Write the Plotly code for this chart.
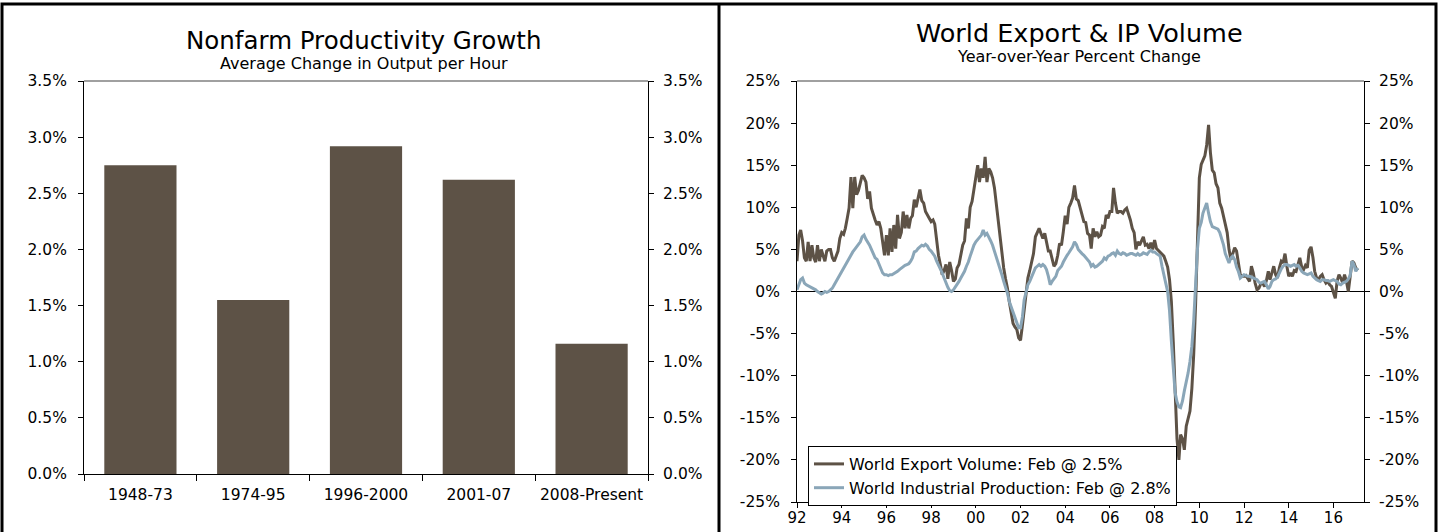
import plotly.graph_objects as go
import pandas as pd

# ---------------- data ----------------
periods = ["1948-73", "1974-95", "1996-2000", "2001-07", "2008-Present"]
productivity = [2.75, 1.55, 2.92, 2.62, 1.16]

# World export volume, y/y % change, monthly Jan-1992 .. Feb-2017
export_volume = [
    3.6, 6.7, 7.3, 6.0, 4.0, 3.6, 5.9, 3.6, 5.5, 4.0, 3.5, 5.5,          # 1992
    3.6, 5.0, 4.3, 3.6, 4.8, 5.0, 5.0, 4.0, 3.6, 4.2, 4.8, 6.3,          # 1993
    7.0, 6.8, 7.5, 8.7, 9.9, 13.6, 9.9, 13.6, 11.5, 12.0, 13.0, 13.8,    # 1994
    13.5, 13.0, 11.0, 11.9, 9.9, 9.1, 8.5, 7.9, 8.3, 7.5, 5.9, 4.3,      # 1995
    6.7, 4.3, 7.5, 4.7, 7.9, 5.1, 9.1, 6.3, 7.0, 9.5, 7.5, 9.1,          # 1996
    7.5, 8.7, 9.0, 10.9, 10.0, 11.0, 12.1, 10.8, 10.5, 9.5, 9.0, 8.7,    # 1997
    8.3, 8.5, 8.0, 6.0, 4.3, 3.2, 2.0, 2.5, 3.2, 1.5, 3.5, 2.5,          # 1998
    1.2, 1.5, 2.8, 3.2, 4.5, 5.5, 6.0, 8.7, 7.5, 10.0, 10.7, 12.3,       # 1999
    13.8, 15.0, 13.0, 14.6, 13.5, 16.0, 13.0, 14.6, 14.2, 13.5, 12.3, 10.3,  # 2000
    8.5, 6.5, 4.5, 2.8, 1.5, 0.4, -1.2, -2.8, -3.8, -4.2, -4.5, -5.5,    # 2001
    -5.8, -4.0, -2.0, 0.0, 1.6, 2.5, 3.5, 4.5, 6.5, 7.0, 7.5, 6.9,       # 2002
    6.3, 6.9, 5.9, 4.8, 4.8, 4.0, 3.0, 3.3, 4.3, 5.7, 5.5, 7.1,          # 2003
    9.0, 8.0, 10.0, 10.5, 11.1, 12.6, 11.0, 10.8, 9.9, 9.0, 8.3, 8.2,    # 2004
    6.9, 6.7, 5.1, 7.5, 6.5, 7.1, 6.5, 6.7, 7.7, 7.5, 9.1, 8.7,          # 2005
    9.5, 9.5, 12.3, 10.5, 9.3, 9.5, 9.5, 9.3, 9.7, 9.9, 9.2, 8.5,        # 2006
    7.5, 7.0, 5.0, 5.9, 5.5, 6.0, 6.5, 5.5, 5.6, 5.1, 5.8, 5.0,          # 2007
    6.1, 5.1, 4.9, 4.6, 4.4, 4.2, 3.6, 2.9, 1.4, -1.2, -6.0, -12.5,      # 2008
    -17.5, -20.0, -17.0, -17.5, -18.8, -16.0, -15.0, -14.2, -11.5, -7.5, -1.5, 5.0,  # 2009
    13.5, 15.1, 15.6, 16.1, 17.4, 19.8, 16.5, 14.4, 14.1, 12.8, 12.3, 10.5,  # 2010
    9.9, 8.7, 8.0, 7.0, 5.0, 3.8, 4.5, 5.2, 4.8, 3.2, 2.0, 1.8,          # 2011
    1.8, 1.9, 1.6, 1.2, 3.0, 2.2, 1.0, 0.2, 0.4, 0.9, 1.0, 0.6,          # 2012
    1.3, 2.4, 1.4, 2.2, 3.0, 2.0, 1.6, 2.8, 3.6, 3.4, 4.5, 3.0,          # 2013
    1.8, 2.2, 1.8, 2.5, 2.4, 3.2, 4.0, 2.9, 2.6, 3.1, 2.8, 4.9,          # 2014
    5.3, 4.0, 2.4, 1.6, 1.4, 1.8, 2.0, 1.4, 1.0, 1.2, 0.8, 0.6,          # 2015
    0.0, -0.8, 1.2, 2.0, 1.6, 1.0, 2.0, 1.2, 0.0, 1.6, 3.6, 3.4,         # 2016
    2.8, 2.5,                                                            # 2017
]

# World industrial production, y/y % change, monthly Jan-1992 .. Feb-2017
industrial_production = [
    0.2, 0.8, 1.4, 1.6, 1.0, 0.8, 0.7, 0.6, 0.5, 0.4, 0.2, 0.0,          # 1992
    -0.2, -0.3, -0.2, 0.0, -0.1, 0.0, 0.2, 0.4, 0.8, 1.2, 1.6, 2.0,      # 1993
    2.4, 2.8, 3.2, 3.6, 4.0, 4.4, 4.7, 5.0, 5.3, 5.6, 5.9, 6.5,          # 1994
    6.7, 6.2, 5.9, 5.5, 5.0, 4.5, 4.0, 3.8, 3.2, 2.8, 2.2, 2.0,          # 1995
    2.0, 1.9, 2.0, 2.0, 2.1, 2.3, 2.4, 2.6, 2.8, 3.0, 3.1, 3.2,          # 1996
    3.3, 3.6, 4.0, 4.7, 4.8, 5.1, 5.3, 5.5, 5.4, 5.6, 5.4, 5.0,          # 1997
    4.8, 4.5, 4.2, 3.6, 3.2, 2.6, 2.2, 1.6, 1.0, 0.5, 0.1, 0.0,          # 1998
    0.2, 0.5, 0.8, 1.2, 1.6, 2.0, 2.4, 3.0, 3.5, 4.2, 5.0, 5.5,          # 1999
    5.9, 6.2, 6.5, 6.7, 7.3, 6.7, 6.9, 6.5, 6.0, 5.5, 4.8, 4.3,          # 2000
    3.5, 2.8, 2.0, 1.2, 0.5, -0.2, -1.2, -1.8, -2.5, -3.2, -3.8, -4.3,   # 2001
    -4.3, -3.0, -1.0, 0.0, 0.8, 1.2, 1.8, 2.3, 2.8, 3.0, 3.2, 3.0,       # 2002
    3.2, 3.0, 2.6, 1.8, 0.8, 1.2, 1.5, 1.8, 2.5, 2.8, 3.0, 3.5,          # 2003
    4.0, 4.3, 4.6, 4.9, 5.3, 5.9, 5.6, 5.0, 4.7, 4.5, 4.3, 4.0,          # 2004
    3.8, 3.5, 3.0, 3.2, 2.9, 3.0, 3.2, 3.4, 3.6, 4.0, 3.8, 4.2,          # 2005
    4.3, 4.5, 4.6, 4.3, 4.8, 4.5, 4.4, 4.6, 4.5, 4.3, 4.4, 4.5,          # 2006
    4.5, 4.4, 4.3, 4.5, 4.3, 4.4, 4.6, 4.5, 4.4, 4.7, 4.9, 4.7,          # 2007
    4.7, 4.5, 4.4, 4.2, 3.0, 1.8, 1.0, 0.0, -2.3, -5.9, -9.5, -12.0,     # 2008
    -13.1, -13.7, -13.8, -13.0, -11.8, -10.8, -9.7, -8.3, -6.5, -3.5, 1.0, 5.0,  # 2009
    7.5, 8.2, 9.3, 10.0, 10.5, 9.3, 8.3, 7.7, 7.6, 7.5, 7.4, 7.0,        # 2010
    6.3, 5.5, 4.5, 3.9, 3.4, 4.0, 4.2, 3.8, 2.9, 2.4, 1.6, 1.8,          # 2011
    2.0, 1.9, 1.8, 1.8, 1.7, 1.6, 1.5, 1.4, 1.1, 1.0, 1.1, 1.2,          # 2012
    0.8, 0.3, 0.6, 1.2, 1.4, 1.5, 1.7, 2.3, 2.7, 3.0, 3.2, 3.2,          # 2013
    3.1, 3.0, 3.1, 3.2, 3.0, 3.1, 2.8, 2.4, 2.2, 2.1, 2.0, 2.1,          # 2014
    2.2, 1.8, 1.6, 1.4, 1.3, 1.2, 1.4, 1.4, 1.3, 1.3, 1.2, 1.3,          # 2015
    1.4, 1.3, 1.2, 0.9, 0.8, 1.0, 1.1, 1.2, 1.5, 1.9, 3.6, 3.2,          # 2016
    2.4, 2.8,                                                            # 2017
]

months = pd.date_range("1992-01-01", periods=len(export_volume), freq="MS")

left_ticks = [0, 0.5, 1.0, 1.5, 2.0, 2.5, 3.0, 3.5]
left_ticktext = ["0.0%", "0.5%", "1.0%", "1.5%", "2.0%", "2.5%", "3.0%", "3.5%"]
right_ticks = [-25, -20, -15, -10, -5, 0, 5, 10, 15, 20, 25]
right_ticktext = ["-25%", "-20%", "-15%", "-10%", "-5%", "0%", "5%", "10%", "15%", "20%", "25%"]

# ---------------- styling ----------------
W, H = 1439, 532
FONT = "DejaVu Sans"
BROWN = "#5D5246"
BLUE = "#8AA6B8"


def fx(p):
    return p / W


def fy(p):
    return 1 - p / H


L_X0, L_X1, L_Y0, L_Y1 = 84, 648, 81, 474
R_X0, R_X1, R_Y0, R_Y1 = 797, 1364, 81, 502

fig = go.Figure()

fig.add_trace(go.Bar(
    x=periods, y=productivity, width=0.64,
    marker=dict(color=BROWN, line=dict(width=0)),
    xaxis="x", yaxis="y", showlegend=False, hoverinfo="x+y",
))
fig.add_trace(go.Scatter(
    x=periods, y=productivity, mode="none", xaxis="x", yaxis="y2",
    showlegend=False, hoverinfo="skip",
))

fig.add_trace(go.Scatter(
    x=months, y=export_volume, mode="lines",
    line=dict(color=BROWN, width=3),
    name="World Export Volume: Feb @ 2.5%", xaxis="x2", yaxis="y3",
))
fig.add_trace(go.Scatter(
    x=months, y=industrial_production, mode="lines",
    line=dict(color=BLUE, width=3),
    name="World Industrial Production: Feb @ 2.8%", xaxis="x2", yaxis="y3",
))
fig.add_trace(go.Scatter(
    x=months, y=export_volume, mode="none", xaxis="x2", yaxis="y4",
    showlegend=False, hoverinfo="skip",
))

tickfont = dict(family=FONT, size=15.5, color="#000")


def ax(**kw):
    base = dict(showline=True, linecolor="#000", linewidth=1, ticks="outside",
                ticklen=5, tickcolor="#000", showgrid=False, zeroline=False,
                tickfont=tickfont, fixedrange=True, automargin=False)
    base.update(kw)
    return base


fig.update_layout(
    width=W, height=H, autosize=False,
    margin=dict(l=0, r=0, t=0, b=0, pad=0, autoexpand=False),
    paper_bgcolor="white", plot_bgcolor="white",
    font=dict(family=FONT, color="#000"),
    xaxis=ax(domain=[fx(L_X0), fx(L_X1)], anchor="y", type="category",
             tickson="boundaries", range=[-0.5, 4.5], ticklen=6, ticklabelstandoff=6),
    yaxis=ax(domain=[fy(L_Y1), fy(L_Y0)], anchor="x", range=[0, 3.5],
             tickvals=left_ticks, ticktext=left_ticktext, ticklabelstandoff=8),
    yaxis2=ax(overlaying="y", side="right", anchor="x", range=[0, 3.5],
              tickvals=left_ticks, ticktext=left_ticktext, ticklabelstandoff=6),
    xaxis2=ax(domain=[fx(R_X0), fx(R_X1)], anchor="y3", type="date",
              range=["1992-01-01", "2017-05-15"], tick0="1992-01-01", dtick="M24",
              tickformat="%y", ticklen=5, ticklabelstandoff=-3,
              tickfont=dict(family=FONT, size=15, color="#000")),
    yaxis3=ax(domain=[fy(R_Y1), fy(R_Y0)], anchor="x2", range=[-25, 25],
              tickvals=right_ticks, ticktext=right_ticktext, ticklabelstandoff=8,
              zeroline=True, zerolinecolor="#000", zerolinewidth=1),
    yaxis4=ax(overlaying="y3", side="right", anchor="x2", range=[-25, 25],
              tickvals=right_ticks, ticktext=right_ticktext, ticklabelstandoff=6),
    legend=dict(x=fx(808), y=fy(446), xanchor="left", yanchor="top",
                bgcolor="white", bordercolor="#000", borderwidth=1,
                font=dict(family=FONT, size=16, color="#000"),
                itemwidth=30, tracegroupgap=0),
    showlegend=True,
)

annotations = [
    dict(text="Nonfarm Productivity Growth", x=fx(364), y=fy(40), font=dict(size=24.5)),
    dict(text="Average Change in Output per Hour", x=fx(364), y=fy(63), font=dict(size=16)),
    dict(text="World Export & IP Volume", x=fx(1079), y=fy(33), font=dict(size=25.5)),
    dict(text="Year-over-Year Percent Change", x=fx(1079), y=fy(56), font=dict(size=16)),
]
for a in annotations:
    a.update(xref="paper", yref="paper", xanchor="center", yanchor="middle", showarrow=False)
    a["font"].update(family=FONT, color="#000")
fig.update_layout(annotations=annotations)

shapes = [
    # gray top edges of plot frames
    dict(type="line", x0=fx(L_X0), x1=fx(L_X1), y0=fy(L_Y0), y1=fy(L_Y0), line=dict(color="#808080", width=1.5)),
    dict(type="line", x0=fx(R_X0), x1=fx(R_X1), y0=fy(R_Y0), y1=fy(R_Y0), line=dict(color="#808080", width=1.5)),
    # outer frame and divider
    dict(type="rect", x0=fx(2), x1=fx(1436), y0=fy(560), y1=fy(4), line=dict(color="#000", width=3)),
    dict(type="line", x0=fx(719), x1=fx(719), y0=fy(560), y1=fy(4), line=dict(color="#000", width=3)),
]
for s in shapes:
    s.update(xref="paper", yref="paper")
fig.update_layout(shapes=shapes)

fig.write_html(
    "out.html",
    post_script="document.body.style.margin='0px';document.documentElement.style.overflow='hidden';",
)
